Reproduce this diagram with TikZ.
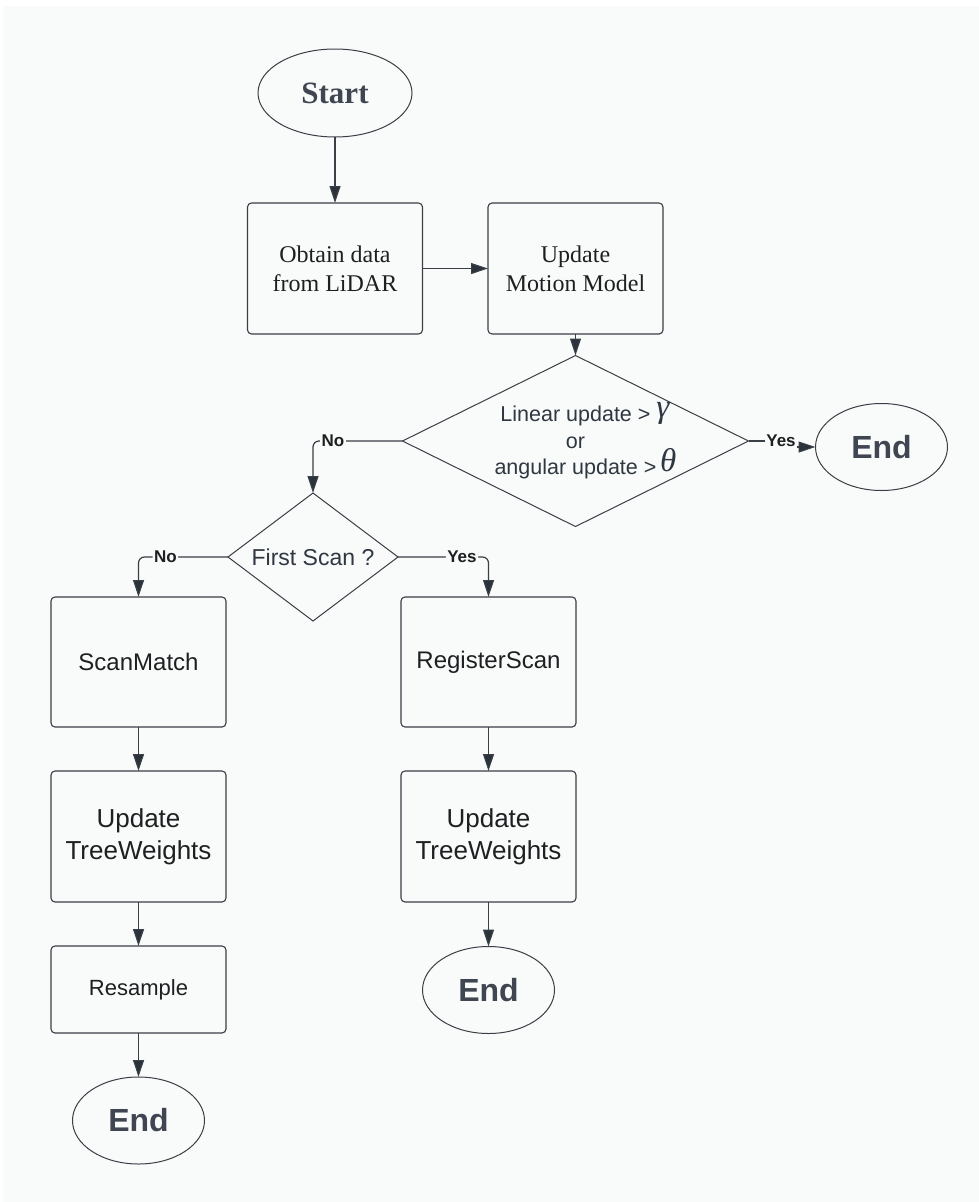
\documentclass[tikz,border=0pt]{standalone}
\usepackage{fontspec}
\setmainfont{Liberation Sans}
\newfontfamily\serifface{Liberation Serif}
\usetikzlibrary{arrows.meta,shapes.geometric}

\definecolor{bg}{HTML}{F9FAFA}
\definecolor{edge}{HTML}{3A3F45}
\definecolor{ink}{HTML}{1E1F21}
\definecolor{slate}{HTML}{3F4652}
\definecolor{dtext}{HTML}{2F3741}
\definecolor{tipc}{HTML}{2A323B}

\begin{document}
\begin{tikzpicture}[x=1pt,y=-1pt,
  every node/.style={inner sep=0pt,outer sep=0pt},
  procbox/.style={draw=edge, line width=1.1pt, rounded corners=4pt,
    minimum width=175pt, align=center, text=ink},
  oval/.style={draw=edge, line width=1pt, ellipse, minimum width=132pt,
    minimum height=87pt, text=slate},
  decision/.style={draw=edge, line width=1pt, diamond, align=center, text=dtext},
  conn/.style={draw=edge, line width=1.2pt, -{Triangle[length=17pt,width=11pt,fill=tipc]}},
  lbl/.style={fill=bg, inner xsep=1.5pt, inner ysep=3pt, text=ink, font=\bfseries\fontsize{17}{17}\selectfont},
  sansbig/.style={font=\fontsize{24}{30}\selectfont},
  twotext/.style={font=\fontsize{26}{32}\selectfont},
  serifbox/.style={font=\serifface\fontsize{24}{29}\selectfont},
  endtext/.style={font=\bfseries\fontsize{32}{32}\selectfont}
]
% canvas
\fill[white] (0,0) rectangle (979,1202);
\fill[bg] (3,6) rectangle (979,1202);

% top row
\node[oval, minimum width=154pt, minimum height=88pt,
  font=\serifface\bfseries\fontsize{31}{31}\selectfont] (start) at (335,93) {Start};
\node[procbox, serifbox, minimum height=131pt] (obtain) at (335,268.5) {Obtain data\\from LiDAR};
\node[procbox, serifbox, minimum height=131pt] (motion) at (575.5,268.5) {Update\\Motion Model};

% first decision and its exit
\node[decision, minimum width=346pt, minimum height=171pt, aspect=2,
  font=\fontsize{21.5}{26.5}\selectfont] (d1) at (575.5,441)
  {Linear update >\rlap{\ \raisebox{4pt}{\serifface\itshape\fontsize{33}{33}\selectfont γ}}\\
   or\\
   angular update >\rlap{\,\raisebox{3pt}{\serifface\itshape\fontsize{33}{33}\selectfont θ}}};
\node[oval, endtext] (end1) at (881.5,447) {End};

% second decision
\node[decision, minimum width=170pt, minimum height=128pt, aspect=1.33,
  font=\fontsize{23}{23}\selectfont] (d2) at (313,557) {First Scan ?};

% left branch
\node[procbox, sansbig, minimum height=130pt] (scan) at (138.5,662) {ScanMatch};
\node[procbox, twotext, minimum height=131pt] (tw1) at (138.5,836.5) {Update\\TreeWeights};
\node[procbox, font=\fontsize{22}{22}\selectfont, minimum height=87pt] (res) at (138.5,989.5) {Resample};
\node[oval, endtext] (end3) at (138.5,1120.5) {End};

% right branch
\node[procbox, sansbig, minimum height=130pt] (reg) at (488.5,662) {RegisterScan};
\node[procbox, twotext, minimum height=131pt] (tw2) at (488.5,836.5) {Update\\TreeWeights};
\node[oval, endtext] (end2) at (488.5,990) {End};

% connectors
\draw[conn] (start) -- (obtain);
\draw[conn] (obtain) -- (motion);
\draw[conn] (motion) -- (d1);
\draw[conn] (d1.east) -- (781,441) node[lbl] {Yes} |- (end1.west);
\draw[conn, rounded corners=6pt] (d1.west) -- node[lbl, pos=0.777] {No} (313,441) -- (d2.north);
\draw[conn, rounded corners=6pt] (d2.west) -- node[lbl, pos=0.70] {No} (138.5,557) -- (scan.north);
\draw[conn, rounded corners=6pt] (d2.east) -- node[lbl, pos=0.707] {Yes} (488.5,557) -- (reg.north);
\draw[conn] (scan) -- (tw1);
\draw[conn] (tw1) -- (res);
\draw[conn] (res) -- (end3);
\draw[conn] (reg) -- (tw2);
\draw[conn] (tw2) -- (end2);
\end{tikzpicture}
\end{document}
